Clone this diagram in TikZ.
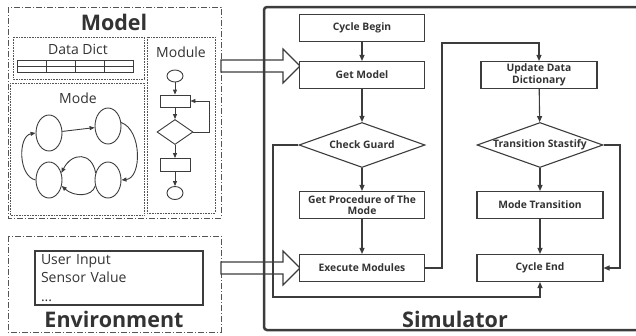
\documentclass[tikz,border=0pt]{standalone}
\usepackage{fontspec}
\setmainfont{Open Sans}
\usetikzlibrary{shapes.geometric,arrows.meta}
\definecolor{ln}{HTML}{3C3C3C}
\definecolor{tx}{HTML}{333333}
\definecolor{bx}{HTML}{555555}
\begin{document}
\begin{tikzpicture}[x=1pt,y=-1pt,
  outerbox/.style={draw=bx, line width=1pt, dash pattern=on 6pt off 2pt on 1pt off 2pt},
  dotbox/.style={draw=bx, line width=0.8pt, dash pattern=on 0.8pt off 0.8pt},
  title/.style={font=\bfseries\fontsize{21.5}{24}\selectfont, text=tx},
  sub/.style={font=\fontsize{14}{16}\selectfont, text=tx},
  fbox/.style={draw=ln, line width=1.1pt, fill=white, minimum height=27pt, inner sep=1pt,
    font=\bfseries\fontsize{10.3}{11.5}\selectfont, text=tx, align=center},
  fdia/.style={draw=ln, line width=1.1pt, diamond, aspect=2.8, minimum width=126pt,
    minimum height=45pt, inner sep=0pt},
  dlabel/.style={font=\bfseries\fontsize{10.3}{11.5}\selectfont, text=tx},
  arr/.style={draw=ln, line width=1.1pt, -{Triangle[length=6pt,width=5pt]}},
  sarr/.style={draw=ln, line width=0.9pt, -{Triangle[length=5pt,width=4pt]}},
  st/.style={draw=ln, line width=0.9pt, ellipse, minimum width=26pt, minimum height=36pt, inner sep=0pt},
  mshape/.style={draw=ln, line width=0.9pt, inner sep=0pt},
  hollow/.style={draw=ln, line width=1.1pt, fill=white}
]
\useasboundingbox (0,0) rectangle (636,335);

% ---------- Model ----------
\draw[outerbox] (8,7) rectangle (221,218);
\node[title] (tmodel) at (114,22) {Model};
\draw[dotbox] (13,37) rectangle (144,79);
\node[sub] (tdd) at (78,49) {Data Dict};
\draw[draw=ln, line width=0.9pt] (17,60) rectangle (133,72);
\draw[draw=ln, line width=0.9pt] (17,66) -- (133,66) (46,60) -- (46,72) (75,60) -- (75,72) (104,60) -- (104,72);
\draw[dotbox] (10,83) rectangle (144,215);
\node[sub] (tmode) at (78,98) {Mode};
\node[st] (m1) at (49,133) {};
\node[st] (m2) at (108,126) {};
\node[st] (m3) at (49,180) {};
\node[st] (m4) at (108,180) {};
\draw[sarr] (m1) -- (m2);
\draw[sarr] (m2.15) .. controls (142,130) and (142,178) .. (m4.0);
\draw[sarr] (m4.150) .. controls (92,152) and (72,152) .. (m3.30);
\draw[sarr] (m4.205) .. controls (92,197) and (74,197) .. (m3.-25);
\draw[sarr] (m3.180) .. controls (18,176) and (18,136) .. (m1.180);

\draw[dotbox] (147,37) rectangle (215,213);
\node[sub] (tmodule) at (181,52) {Module};
\node[mshape, ellipse, minimum width=16pt, minimum height=12pt] (me1) at (175,76) {};
\node[mshape, rectangle, minimum width=30pt, minimum height=12pt] (mr1) at (175,101) {};
\node[mshape, diamond, aspect=1.44, minimum width=36pt, minimum height=25pt] (md) at (175,132) {};
\node[mshape, rectangle, minimum width=30pt, minimum height=13pt] (mr2) at (175,165) {};
\node[mshape, ellipse, minimum width=16pt, minimum height=13pt] (me2) at (175,193) {};
\coordinate (lp) at (209,101);
\draw[sarr] (me1) -- (mr1);
\draw[sarr] (mr1) -- (md);
\draw[sarr] (md) -- (mr2);
\draw[sarr] (mr2) -- (me2);
\draw[sarr] (md.east) -| (lp) -- (mr1.east);

% ---------- Environment ----------
\draw[outerbox] (8,236) rectangle (221,332);
\node[draw=ln, line width=1.1pt, minimum width=168pt, minimum height=54pt, text width=156pt,
  align=left, inner xsep=6pt, inner ysep=0pt, text=tx, font=\fontsize{14}{18.5}\selectfont] (ev) at (119,278)
  {User Input\\Sensor Value\\...};
\node[title] (tenv) at (114,319) {Environment};

% ---------- Hollow arrows ----------
\draw[hollow] (221,60) -- (283,60) -- (283,49) -- (300,66) -- (283,83) -- (283,72) -- (221,72) -- cycle;
\draw[hollow] (221,262) -- (283,262) -- (283,251) -- (300,268) -- (283,285) -- (283,274) -- (221,274) -- cycle;

% ---------- Simulator ----------
\draw[draw=ln, line width=2.5pt, rounded corners=3pt] (640,7) -- (264,7) -- (264,330) -- (640,330);
\node[title] (tsim) at (455,319) {Simulator};

\node[fbox, minimum width=125pt] (cb) at (362,28) {Cycle Begin};
\node[fbox, minimum width=125pt] (gm) at (362,75) {Get Model};
\node[fdia, label={[dlabel]center:Check Guard}] (cg) at (362,145) {};
\node[fbox, minimum width=125pt] (gp) at (362,205) {Get Procedure of The\\Mode};
\node[fbox, minimum width=125pt] (em) at (362,268) {Execute Modules};

\node[fbox, minimum width=116pt] (ud) at (539,75) {Update Data\\Dictionary};
\node[fdia, label={[dlabel]center:Transition Stastify}] (ts) at (540,145) {};
\node[fbox, minimum width=126pt] (mt) at (540,205) {Mode Transition};
\node[fbox, minimum width=126pt] (ce) at (540,268) {Cycle End};

\coordinate (lb) at (273,297);
\coordinate (tp) at (442,43);
\coordinate (rr) at (620,145);

\draw[arr] (cb) -- (gm);
\draw[arr] (gm) -- (cg);
\draw[arr] (cg) -- (gp);
\draw[arr] (gp) -- (em);
\draw[arr] (cg.west) -| (lb) -| (ce.south);
\draw[arr] (em.east) -| (tp) -| (ud.north);
\draw[arr] (ud) -- (ts);
\draw[arr] (ts) -- (mt);
\draw[arr] (mt) -- (ce);
\draw[arr] (ts.east) -| (rr) |- (ce.east);
\end{tikzpicture}
\end{document}
